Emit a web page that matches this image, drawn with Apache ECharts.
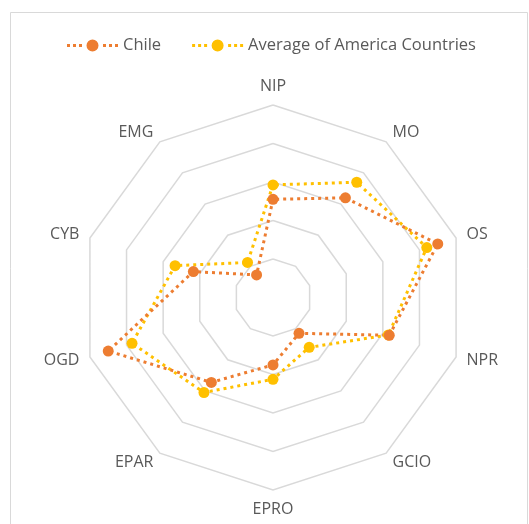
<!DOCTYPE html>
<html>
<head>
<meta charset="utf-8">
<script src="https://cdn.jsdelivr.net/npm/echarts@6/dist/echarts.min.js"></script>
<style>
html,body{margin:0;padding:0;background:#fff;}
#c{width:529px;height:524px;}
</style>
</head>
<body>
<div id="c"></div>
<script>
// Listed clockwise starting at the top, as in the picture
var indicators = ['NIP', 'MO', 'OS', 'NPR', 'GCIO', 'EPRO', 'EPAR', 'OGD', 'CYB', 'EMG'];
var chile = [0.51, 0.64, 0.90, 0.635, 0.23, 0.35, 0.545, 0.90, 0.435, 0.145];
var americaAvg = [0.585, 0.74, 0.84, 0.63, 0.32, 0.425, 0.61, 0.77, 0.535, 0.225];
var seriesNames = ['Chile', 'Average of America Countries'];
var colors = ['#ED7D31', '#FFC000'];

// ECharts lays radar axes counter-clockwise; reorder so they run clockwise
function cw(arr) { return [arr[0]].concat(arr.slice(1).reverse()); }

var iconPath = 'path://M0,4.5h3v3h-3Z M6,4.5h3v3h-3Z M12,4.5h3v3h-3Z M19.5,6A6,6 0 1,0 31.5,6A6,6 0 1,0 19.5,6Z M36,4.5h3v3h-3Z M42,4.5h3v3h-3Z M48,4.5h3v3h-3Z';

var chart = echarts.init(document.getElementById('c'));
var font = '"Open Sans", "Liberation Sans", sans-serif';
chart.setOption({
  animation: false,
  backgroundColor: '#fff',
  textStyle: {fontFamily: font},
  graphic: [{
    type: 'rect', left: 8, top: 10,
    shape: {width: 517, height: 530},
    style: {fill: 'none', stroke: '#d9d9d9', lineWidth: 1}, silent: true
  }],
  legend: {
    left: 62, top: 32,
    itemWidth: 51, itemHeight: 12, itemGap: 31,
    textStyle: {color: '#595959', fontSize: 16.5, fontFamily: font},
    data: [
      {name: seriesNames[0], icon: iconPath},
      {name: seriesNames[1], icon: iconPath}
    ]
  },
  radar: {
    center: [273, 297.5],
    radius: 192.5,
    startAngle: 90,
    shape: 'polygon',
    splitNumber: 5,
    indicator: cw(indicators).map(function (n) { return {name: n, min: 0, max: 1}; }),
    axisName: {color: '#595959', fontSize: 16, fontFamily: font},
    nameGap: 11,
    axisLine: {show: false},
    axisTick: {show: false},
    axisLabel: {show: false},
    splitArea: {show: false},
    splitLine: {lineStyle: {color: '#d9d9d9', width: 1.5}}
  },
  series: [{
    type: 'radar',
    symbol: 'circle',
    symbolSize: 11,
    data: [
      {
        name: seriesNames[1], value: cw(americaAvg),
        itemStyle: {color: colors[1]},
        lineStyle: {color: colors[1], width: 3, type: [3, 4]}
      },
      {
        name: seriesNames[0], value: cw(chile),
        itemStyle: {color: colors[0]},
        lineStyle: {color: colors[0], width: 3, type: [3, 4]}
      }
    ]
  }]
});
</script>
</body>
</html>
